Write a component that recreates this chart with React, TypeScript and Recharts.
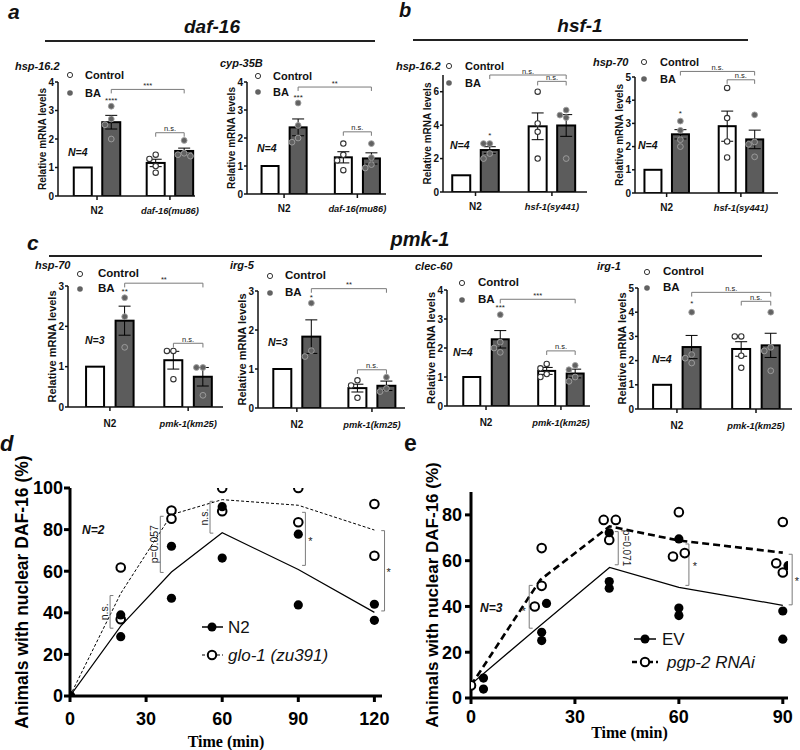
import React from "react";
import {
  ComposedChart,
  Bar,
  ErrorBar,
  Scatter,
  Line,
  XAxis,
  YAxis,
  ReferenceLine,
  ReferenceDot,
} from "recharts";

const SANS = "'Liberation Sans', Arial, Helvetica, sans-serif";
const SERIF = "'Liberation Serif', 'Times New Roman', serif";
const BA_GRAY = "#5c5c5c";
const DOT_GRAY = "#626262";
const BRACKET = "#7a7a7a";

// ---------- qPCR data: order is N2 Control, N2 BA, mutant Control, mutant BA ----------
const legendLabels = ["Control", "BA"];

const daf16Genotypes = ["N2", "daf-16(mu86)"];
const daf16Hsp162Mean = [1, 2.59, 1.16, 1.58];
const daf16Hsp162Sem = [null, 0.24, 0.13, 0.1];
const daf16Hsp162Points = [[], [3.15, 2.7, 2.5, 2.0], [1.45, 1.3, 1.05, 0.82], [1.95, 1.5, 1.45, 1.4]];
const daf16Cyp35bMean = [1, 2.38, 1.31, 1.27];
const daf16Cyp35bSem = [null, 0.3, 0.2, 0.2];
const daf16Cyp35bPoints = [[], [3.25, 2.45, 2.0, 1.85], [1.8, 1.4, 1.2, 0.85], [1.8, 1.3, 1.05, 0.93]];

const hsf1Genotypes = ["N2", "hsf-1(sy441)"];
const hsf1Hsp162Mean = [1, 2.51, 3.93, 3.98];
const hsf1Hsp162Sem = [null, 0.2, 0.8, 0.65];
const hsf1Hsp162Points = [[], [2.3, 2.9, 2.9, 2.0], [6.0, 4.1, 3.6, 2.0], [4.9, 4.6, 4.45, 2.0]];
const hsf1Hsp70Mean = [1, 2.53, 2.88, 2.31];
const hsf1Hsp70Sem = [null, 0.2, 0.65, 0.4];
const hsf1Hsp70Points = [[], [3.1, 2.7, 2.3, 2.0], [4.53, 3.23, 2.22, 1.53], [3.37, 2.2, 2.1, 1.56]];

const pmk1Genotypes = ["N2", "pmk-1(km25)"];
const pmk1Hsp70Mean = [1, 2.14, 1.16, 0.75];
const pmk1Hsp70Sem = [null, 0.36, 0.22, 0.23];
const pmk1Hsp70Points = [[], [2.71, 2.24, 1.48], [1.39, 1.39, 0.69], [0.98, 0.98, 0.29]];
const pmk1Irg5Mean = [1, 1.83, 0.51, 0.57];
const pmk1Irg5Sem = [null, 0.43, 0.1, 0.12];
const pmk1Irg5Points = [[], [2.69, 1.47, 1.32], [0.71, 0.58, 0.26], [0.79, 0.5, 0.42]];
const pmk1Clec60Mean = [1, 2.3, 1.21, 1.12];
const pmk1Clec60Sem = [null, 0.3, 0.12, 0.15];
const pmk1Clec60Points = [[], [3.15, 2.2, 2.0, 1.85], [1.45, 1.3, 1.1, 1.0], [1.4, 1.25, 1.0, 0.85]];
const pmk1Irg1Mean = [1, 2.56, 2.48, 2.63];
const pmk1Irg1Sem = [null, 0.48, 0.3, 0.5];
const pmk1Irg1Points = [[], [4.0, 2.25, 2.1, 1.9], [3.0, 3.0, 2.2, 1.7], [4.0, 2.55, 2.4, 1.58]];

// significance marks: star over N2 BA, long bracket N2 BA -> mutant BA, short bracket within mutant
const daf16Hsp162Sig = { star: "****", starY: 3.37, long: "***", longY: 3.74, short: "n.s.", shortY: 2.22 };
const daf16Cyp35bSig = { star: "***", starY: 3.46, long: "**", longY: 3.82, short: "n.s.", shortY: 2.22 };
const hsf1Hsp162Sig = { star: "*", starY: 3.42, long: "n.s.", longY: 7.0, short: "n.s.", shortY: 6.62 };
const hsf1Hsp70Sig = { star: "*", starY: 3.44, long: "n.s.", longY: 5.24, short: "n.s.", shortY: 4.88 };
const pmk1Hsp70Sig = { star: "**", starY: 2.88, long: "**", longY: 3.07, short: "n.s.", shortY: 1.58 };
const pmk1Irg5Sig = { star: "*", starY: 2.85, long: "**", longY: 3.06, short: "n.s.", shortY: 0.98 };
const pmk1Clec60Sig = { star: "***", starY: 3.4, long: "***", longY: 3.68, short: "n.s.", shortY: 1.9 };
const pmk1Irg1Sig = { star: "*", starY: 4.38, long: "n.s.", longY: 4.82, short: "n.s.", shortY: 4.45 };

// ---------- DAF-16 nuclear localisation time courses ----------
const timeD = [0, 20, 40, 60, 90, 120];
const n2Mean = [0, 33.6, 59.6, 78.5, 60.8, 40.2];
const glo1Mean = [0, 49.3, 87.2, 94.4, 91.7, 79.8];
const n2Reps = [[0, 0], [20, 39], [20, 28.5], [40, 72], [40, 47], [60, 91], [60, 66.3], [90, 77.8], [90, 43.8], [120, 44.1], [120, 36.4]];
const glo1Reps = [[0, 0], [20, 61.8], [20, 36.9], [40, 89.2], [40, 85.2], [60, 100], [60, 88.8], [90, 100], [90, 83.5], [120, 92.3], [120, 67.4]];

const timeE = [0, 20, 40, 60, 90];
const evMean = [6, 31.7, 57, 48.3, 40.5];
const pgp2Mean = [5.5, 51.6, 75, 68.8, 63.5];
const evReps = [[3.6, 8.7], [3.6, 3.9], [20.4, 28.7], [20.4, 25.1], [21.8, 41.3], [39.9, 72.2], [39.9, 50.9], [39.9, 48], [60, 69.5], [60, 39.3], [60, 36], [91.5, 57.8], [90, 38], [90, 25.7]];
const pgp2Reps = [[0, 5.5], [18.4, 40], [20.4, 65.5], [20.4, 49], [38.3, 77.8], [41.8, 77.8], [39.9, 69], [58.3, 61.8], [60, 81.2], [61.7, 63.3], [88.1, 58.9], [90, 76.9], [90, 54.8]];

// bracket annotations (time, low %, high %, tick direction, text, text position)
const dBrackets = [
  { t: 15.8, lo: 32.6, hi: 48.3, dir: 1, text: "n.s.", tx: 13.4, ty: 40.5, angle: -90 },
  { t: 35.6, lo: 59.4, hi: 86.4, dir: 1, text: "p=0.057", tx: 33.1, ty: 73, angle: -90 },
  { t: 55.2, lo: 78.3, hi: 93.6, dir: 1, text: "n.s.", tx: 52.8, ty: 86, angle: -90 },
  { t: 92.8, lo: 62.8, hi: 88.3, dir: -1, text: "*", tx: 94.8, ty: 74.5, angle: 0 },
  { t: 124, lo: 40.9, hi: 79.5, dir: -1, text: "*", tx: 125.6, ty: 59.5, angle: 0 },
];
const eBrackets = [
  { t: 16.8, lo: 30.5, hi: 49.2, dir: 1, text: "*", tx: 15.2, ty: 38, angle: 0 },
  { t: 42.5, lo: 58.2, hi: 72.7, dir: -1, text: "p=0.071", tx: 44.9, ty: 65.5, angle: 90 },
  { t: 62.9, lo: 49.2, hi: 67.3, dir: -1, text: "*", tx: 64.6, ty: 57.5, angle: 0 },
  { t: 92.7, lo: 40.7, hi: 62.8, dir: -1, text: "*", tx: 94.1, ty: 51, angle: 0 },
];

type Sig = { star: string; starY: number; long: string; longY: number; short: string; shortY: number };
type BarSpec = {
  id: string;
  gene: string;
  genotypes: string[];
  n: string;
  mean: (number | null)[];
  sem: (number | null)[];
  points: number[][];
  sig: Sig;
  yMax: number;
  yTicks: number[];
  // layout (page px)
  x0: number;
  x1: number;
  yTop: number;
  yZero: number;
  groups: number[];
  xMax: number;
  barSize: number;
  geneAt: [number, number];
  legendAt: [number, number, number, number];
  nAt: [number, number];
  labelSize: number;
  legendSize: number;
  tickDy: number;
};

const ROW_AB = { labelSize: 10, legendSize: 11, tickDy: 11.5 };
const ROW_C = { labelSize: 11, legendSize: 11.5, tickDy: 13.5 };

const BAR_PANELS: BarSpec[] = [
  {
    id: "a1", gene: "hsp-16.2", genotypes: daf16Genotypes, n: "N=4",
    mean: daf16Hsp162Mean, sem: daf16Hsp162Sem, points: daf16Hsp162Points, sig: daf16Hsp162Sig,
    yMax: 4, yTicks: [0, 1, 2, 3, 4],
    x0: 58, x1: 195, yTop: 82, yZero: 196, groups: [1.37, 3.93], xMax: 4.81, barSize: 18,
    geneAt: [15, 66], legendAt: [70, 75, 93, 85], nAt: [68, 152], ...ROW_AB,
  },
  {
    id: "a2", gene: "cyp-35B", genotypes: daf16Genotypes, n: "N=4",
    mean: daf16Cyp35bMean, sem: daf16Cyp35bSem, points: daf16Cyp35bPoints, sig: daf16Cyp35bSig,
    yMax: 4, yTicks: [0, 1, 2, 3, 4],
    x0: 247, x1: 386, yTop: 82, yZero: 194, groups: [1.32, 3.93], xMax: 4.95, barSize: 17,
    geneAt: [220, 63], legendAt: [258, 76, 92, 273], nAt: [257, 148], ...ROW_AB,
  },
  {
    id: "b1", gene: "hsp-16.2", genotypes: hsf1Genotypes, n: "N=4",
    mean: hsf1Hsp162Mean, sem: hsf1Hsp162Sem, points: hsf1Hsp162Points, sig: hsf1Hsp162Sig,
    yMax: 7, yTicks: [0, 2, 4, 6],
    x0: 443, x1: 587, yTop: 75, yZero: 192, groups: [1.14, 3.82], xMax: 5.05, barSize: 18,
    geneAt: [396, 66], legendAt: [449, 66, 83, 465], nAt: [450, 145], ...ROW_AB,
  },
  {
    id: "b2", gene: "hsp-70", genotypes: hsf1Genotypes, n: "N=4",
    mean: hsf1Hsp70Mean, sem: hsf1Hsp70Sem, points: hsf1Hsp70Points, sig: hsf1Hsp70Sig,
    yMax: 5, yTicks: [0, 1, 2, 3, 4, 5],
    x0: 635, x1: 778, yTop: 77, yZero: 193, groups: [1.15, 3.85], xMax: 5.2, barSize: 17,
    geneAt: [593, 62], legendAt: [644, 62, 79, 660], nAt: [638, 145], ...ROW_AB,
  },
  {
    id: "c1", gene: "hsp-70", genotypes: pmk1Genotypes, n: "N=3",
    mean: pmk1Hsp70Mean, sem: pmk1Hsp70Sem, points: pmk1Hsp70Points, sig: pmk1Hsp70Sig,
    yMax: 3, yTicks: [0, 1, 2, 3],
    x0: 68, x1: 223, yTop: 286, yZero: 407, groups: [1.42, 4.07], xMax: 5.25, barSize: 18,
    geneAt: [35, 265], legendAt: [80, 274, 289, 98], nAt: [85, 340], ...ROW_C,
  },
  {
    id: "c2", gene: "irg-5", genotypes: pmk1Genotypes, n: "N=3",
    mean: pmk1Irg5Mean, sem: pmk1Irg5Sem, points: pmk1Irg5Points, sig: pmk1Irg5Sig,
    yMax: 3, yTicks: [0, 1, 2, 3],
    x0: 258, x1: 405, yTop: 291, yZero: 408, groups: [1.34, 3.93], xMax: 5.07, barSize: 18,
    geneAt: [230, 265], legendAt: [270, 276, 293, 285], nAt: [268, 342], ...ROW_C,
  },
  {
    id: "c3", gene: "clec-60", genotypes: pmk1Genotypes, n: "N=4",
    mean: pmk1Clec60Mean, sem: pmk1Clec60Sem, points: pmk1Clec60Points, sig: pmk1Clec60Sig,
    yMax: 4, yTicks: [0, 1, 2, 3, 4],
    x0: 447, x1: 590, yTop: 290, yZero: 406, groups: [1.37, 4.0], xMax: 5.02, barSize: 17,
    geneAt: [415, 266], legendAt: [462, 283, 300, 478], nAt: [453, 352], ...ROW_C,
  },
  {
    id: "c4", gene: "irg-1", genotypes: pmk1Genotypes, n: "N=4",
    mean: pmk1Irg1Mean, sem: pmk1Irg1Sem, points: pmk1Irg1Points, sig: pmk1Irg1Sig,
    yMax: 5, yTicks: [0, 1, 2, 3, 4, 5],
    x0: 638, x1: 792, yTop: 288, yZero: 409, groups: [1.32, 4.0], xMax: 5.22, barSize: 18,
    geneAt: [597, 266], legendAt: [647, 272, 288, 663], nAt: [652, 359], ...ROW_C,
  },
];

// small beeswarm so replicate dots with close values don't sit on top of each other
function swarm(values: number[], center: number, tol: number) {
  const placed: { x: number; y: number }[] = [];
  const offsets = [0, -0.22, 0.22, -0.11, 0.11, -0.33, 0.33];
  values.forEach((v) => {
    const dx =
      offsets.find(
        (o) => !placed.some((p) => Math.abs(p.y - v) < tol && Math.abs(p.x - (center + o)) < 0.2)
      ) ?? 0;
    placed.push({ x: center + dx, y: v });
  });
  return placed;
}

const openDot = (r: number, sw: number, stroke = "#222") => (p: any) =>
  <circle cx={p.cx} cy={p.cy} r={r} fill="#fff" stroke={stroke} strokeWidth={sw} />;
const fullDot = (r: number, fill: string, stroke = "none") => (p: any) =>
  <circle cx={p.cx} cy={p.cy} r={r} fill={fill} stroke={stroke} strokeWidth={0.9} />;

function Txt({
  left, cy, size, children, bold, italic, center, serif,
}: {
  left: number; cy: number; size: number; children: React.ReactNode;
  bold?: boolean; italic?: boolean; center?: boolean; serif?: boolean;
}) {
  return (
    <div
      style={{
        position: "absolute",
        left,
        top: cy,
        transform: center ? "translate(-50%, -50%)" : "translateY(-50%)",
        fontSize: size,
        lineHeight: 1,
        fontWeight: bold ? 700 : 400,
        fontStyle: italic ? "italic" : "normal",
        fontFamily: serif ? SERIF : SANS,
        whiteSpace: "nowrap",
        color: "#111",
      }}
    >
      {children}
    </div>
  );
}

function Rule({ left, top, width }: { left: number; top: number; width: number }) {
  return <div style={{ position: "absolute", left, top, width, height: 2, background: "#222" }} />;
}

function sigBracket(key: string, xa: number, xb: number, y: number, drop: number, text: string) {
  const line = { stroke: BRACKET, strokeWidth: 1, ifOverflow: "visible" as const };
  return [
    <ReferenceLine key={key + "h"} segment={[{ x: xa, y }, { x: xb, y }]} {...line} />,
    <ReferenceLine key={key + "l"} segment={[{ x: xa, y }, { x: xa, y: y - drop }]} {...line} />,
    <ReferenceLine key={key + "r"} segment={[{ x: xb, y }, { x: xb, y: y - drop }]} {...line} />,
    <ReferenceDot
      key={key + "t"}
      x={(xa + xb) / 2}
      y={y}
      r={0}
      fill="none"
      stroke="none"
      ifOverflow="visible"
      label={{ value: text, position: "top", offset: 1.5, fontSize: 7.5, fill: "#222" }}
    />,
  ];
}

function BarPanel({ s }: { s: BarSpec }) {
  const left = s.x0 - 50;
  const top = s.yTop - 32;
  const width = s.x1 + 14 - left;
  const height = s.yZero - top + 28;
  const xs = [s.groups[0] - 0.5, s.groups[0] + 0.5, s.groups[1] - 0.5, s.groups[1] + 0.5];
  const rows = xs.map((x, i) => ({ x, mean: s.mean[i], sem: s.sem[i] }));
  const tol = (6 * s.yMax) / (s.yZero - s.yTop);
  const ctrlPts = [0, 2].flatMap((i) => swarm(s.points[i], xs[i], tol));
  const baPts = [1, 3].flatMap((i) => swarm(s.points[i], xs[i], tol));
  const drop = s.yMax * 0.035;
  const [lcx, ly1, ly2, ltx] = s.legendAt;

  // bars are placed by the number axis; the shape only widens them around that centre
  const barShape = (p: any) => {
    const cx = p.x + p.width / 2;
    return (
      <rect
        x={cx - s.barSize / 2}
        y={p.y}
        width={s.barSize}
        height={p.height}
        fill={p.index % 2 ? BA_GRAY : "#fff"}
        stroke="#000"
        strokeWidth={2}
      />
    );
  };

  return (
    <>
      <div style={{ position: "absolute", left, top }}>
        <ComposedChart width={width} height={height} data={rows} margin={{ top: 32, right: 14, left: 0, bottom: 0 }}>
          <XAxis
            type="number"
            dataKey="x"
            domain={[0, s.xMax]}
            ticks={s.groups}
            allowDataOverflow
            height={28}
            tickSize={4}
            axisLine={{ stroke: "#111", strokeWidth: 1.5 }}
            tickLine={{ stroke: "#111", strokeWidth: 1.5 }}
            tick={(p: any) => {
              const idx = Math.abs(p.payload.value - s.groups[0]) < 0.01 ? 0 : 1;
              return (
                <text
                  x={p.x}
                  y={p.y + s.tickDy}
                  textAnchor="middle"
                  fontSize={idx === 0 ? 10 : 9.3}
                  fontWeight={700}
                  fontStyle={idx === 0 ? "normal" : "italic"}
                  fill="#111"
                >
                  {s.genotypes[idx]}
                </text>
              );
            }}
          />
          <YAxis
            type="number"
            domain={[0, s.yMax]}
            ticks={s.yTicks}
            allowDataOverflow
            width={50}
            tickSize={3}
            tickMargin={1}
            axisLine={{ stroke: "#111", strokeWidth: 1.5 }}
            tickLine={{ stroke: "#111", strokeWidth: 1.5 }}
            tick={{ fontSize: 10, fontWeight: 700, fill: "#111" }}
            label={{
              value: "Relative mRNA levels",
              angle: -90,
              position: "insideLeft",
              offset: 34,
              fontSize: s.labelSize,
              fontWeight: 700,
              fill: "#111",
              style: { textAnchor: "middle" },
            }}
          />
          <Bar dataKey="mean" shape={barShape} isAnimationActive={false}>
            <ErrorBar dataKey="sem" width={6} stroke="#000" strokeWidth={1} isAnimationActive={false} />
          </Bar>
          <Scatter data={ctrlPts} dataKey="y" isAnimationActive={false} shape={openDot(2.7, 1.1, "#333")} />
          <Scatter data={baPts} dataKey="y" isAnimationActive={false} shape={fullDot(2.9, DOT_GRAY, "#a0a0a0")} />
          <ReferenceDot
            x={xs[1]}
            y={s.sig.starY}
            r={0}
            fill="none"
            stroke="none"
            ifOverflow="visible"
            label={{ value: s.sig.star, position: "center", fontSize: 8, fill: "#222" }}
          />
          {sigBracket(s.id + "L", xs[1], xs[3], s.sig.longY, drop, s.sig.long)}
          {sigBracket(s.id + "S", xs[2], xs[3], s.sig.shortY, drop, s.sig.short)}
        </ComposedChart>
      </div>
      <Txt left={s.geneAt[0]} cy={s.geneAt[1]} size={11} bold italic>
        {s.gene}
      </Txt>
      <svg style={{ position: "absolute", left: lcx - 5, top: ly1 - 5 }} width={10} height={ly2 - ly1 + 10}>
        <circle cx={5} cy={5} r={2.6} fill="#fff" stroke="#333" strokeWidth={1} />
        <circle cx={5} cy={ly2 - ly1 + 5} r={2.8} fill={DOT_GRAY} />
      </svg>
      <Txt left={ltx} cy={ly1} size={s.legendSize} bold>
        {legendLabels[0]}
      </Txt>
      <Txt left={ltx} cy={ly2} size={s.legendSize} bold>
        {legendLabels[1]}
      </Txt>
      <Txt left={s.nAt[0]} cy={s.nAt[1]} size={10.5} bold italic>
        {s.n}
      </Txt>
    </>
  );
}

type Bracket = { t: number; lo: number; hi: number; dir: number; text: string; tx: number; ty: number; angle: number };

function timeBrackets(prefix: string, list: Bracket[], tick: number, textSize: number) {
  const line = { stroke: BRACKET, strokeWidth: 1, ifOverflow: "visible" as const };
  return list.flatMap((b, i) => [
    <ReferenceLine key={`${prefix}${i}v`} segment={[{ x: b.t, y: b.lo }, { x: b.t, y: b.hi }]} {...line} />,
    <ReferenceLine key={`${prefix}${i}a`} segment={[{ x: b.t, y: b.lo }, { x: b.t + b.dir * tick, y: b.lo }]} {...line} />,
    <ReferenceLine key={`${prefix}${i}b`} segment={[{ x: b.t, y: b.hi }, { x: b.t + b.dir * tick, y: b.hi }]} {...line} />,
    <ReferenceDot
      key={`${prefix}${i}t`}
      x={b.tx}
      y={b.ty}
      r={0}
      fill="none"
      stroke="none"
      ifOverflow="visible"
      label={{
        value: b.text,
        position: "center",
        angle: b.angle,
        fontSize: b.text === "*" ? 11 : textSize,
        fill: "#222",
      }}
    />,
  ]);
}

const TIME_TOP = 440;

function TimePanel({
  left, times, meanA, meanB, repsA, repsB, brackets, xMax, xTicks, yMax, yTicks, marginTop, marginRight,
  yAxisW, xAxisH, dashB, widthB, tickMarginX, tickMarginY, yLabelOffset, yLabelSize, timeOffset, bracketTick, bracketText,
}: any) {
  const rows = times.map((t: number, i: number) => ({ x: t, a: meanA[i], b: meanB[i] }));
  const ptsA = repsA.map(([x, y]: number[]) => ({ x, y }));
  const ptsB = repsB.map(([x, y]: number[]) => ({ x, y }));
  const axis = { stroke: "#000", strokeWidth: 3 };
  return (
    <div style={{ position: "absolute", left, top: TIME_TOP }}>
      <ComposedChart width={400} height={750 - TIME_TOP} data={rows} margin={{ top: marginTop, right: marginRight, left: 0, bottom: 0 }}>
        <XAxis
          type="number"
          dataKey="x"
          domain={[0, xMax]}
          ticks={xTicks}
          allowDataOverflow
          height={xAxisH}
          tickSize={6}
          tickMargin={tickMarginX}
          axisLine={axis}
          tickLine={axis}
          tick={{ fontSize: 18, fontWeight: 700, fill: "#000" }}
          label={{
            value: "Time (min)",
            position: "insideBottom",
            offset: timeOffset,
            fontSize: 16,
            fontWeight: 700,
            fill: "#000",
            style: { fontFamily: SERIF },
          }}
        />
        <YAxis
          type="number"
          domain={[0, yMax]}
          ticks={yTicks}
          allowDataOverflow
          width={yAxisW}
          tickSize={6}
          tickMargin={tickMarginY}
          axisLine={axis}
          tickLine={axis}
          tick={{ fontSize: 18, fontWeight: 700, fill: "#000" }}
          label={{
            value: "Animals with nuclear DAF-16 (%)",
            angle: -90,
            position: "insideLeft",
            offset: yLabelOffset,
            fontSize: yLabelSize,
            fontWeight: 700,
            fill: "#000",
            style: { textAnchor: "middle" },
          }}
        />
        <Line type="linear" dataKey="a" stroke="#000" strokeWidth={1.2} dot={false} isAnimationActive={false} />
        <Line
          type="linear"
          dataKey="b"
          stroke="#000"
          strokeWidth={widthB}
          strokeDasharray={dashB}
          dot={false}
          isAnimationActive={false}
        />
        {timeBrackets(left === 0 ? "d" : "e", brackets, bracketTick, bracketText)}
        <Scatter data={ptsB} dataKey="y" isAnimationActive={false} shape={openDot(4.3, 2, "#000")} />
        <Scatter data={ptsA} dataKey="y" isAnimationActive={false} shape={fullDot(4.6, "#000")} />
      </ComposedChart>
    </div>
  );
}

function LineLegend({
  x1, x2, dotX, y, dash, width, open, textLeft, children,
}: {
  x1: number; x2: number; dotX: number; y: number; dash?: string; width: number; open?: boolean;
  textLeft: number; children: React.ReactNode;
}) {
  return (
    <>
      <svg style={{ position: "absolute", left: x1, top: y - 6 }} width={x2 - x1} height={12}>
        <line x1={0} y1={6} x2={x2 - x1} y2={6} stroke="#000" strokeWidth={width} strokeDasharray={dash} />
        {open ? (
          <circle cx={dotX - x1} cy={6} r={4.2} fill="#fff" stroke="#000" strokeWidth={2} />
        ) : (
          <circle cx={dotX - x1} cy={6} r={4.5} fill="#000" />
        )}
      </svg>
      <Txt left={textLeft} cy={y} size={17} italic={open}>
        {children}
      </Txt>
    </>
  );
}

export default function App() {
  return (
    <div
      style={{
        position: "absolute",
        left: 0,
        top: 0,
        width: 800,
        height: 750,
        background: "#fff",
        fontFamily: SANS,
        overflow: "hidden",
      }}
    >
      <TimePanel
        left={0}
        times={timeD}
        meanA={n2Mean}
        meanB={glo1Mean}
        repsA={n2Reps}
        repsB={glo1Reps}
        brackets={dBrackets}
        xMax={123}
        xTicks={[0, 30, 60, 90, 120]}
        yMax={100}
        yTicks={[0, 20, 40, 60, 80, 100]}
        marginTop={488 - TIME_TOP}
        marginRight={18}
        yAxisW={70}
        xAxisH={54}
        dashB="3 2"
        widthB={1}
        tickMarginX={10}
        tickMarginY={1}
        yLabelOffset={22}
        yLabelSize={17.5}
        timeOffset={3}
        bracketTick={1.3}
        bracketText={10.5}
      />
      <TimePanel
        left={400}
        times={timeE}
        meanA={evMean}
        meanB={pgp2Mean}
        repsA={evReps}
        repsB={pgp2Reps}
        brackets={eBrackets}
        xMax={91.5}
        xTicks={[0, 30, 60, 90]}
        yMax={90}
        yTicks={[0, 20, 40, 60, 80]}
        marginTop={492 - TIME_TOP}
        marginRight={12}
        yAxisW={71}
        xAxisH={52}
        dashB="7 4"
        widthB={2.6}
        tickMarginX={6}
        tickMarginY={3}
        yLabelOffset={32}
        yLabelSize={17}
        timeOffset={12}
        bracketTick={1}
        bracketText={10}
      />

      {/* section letters and gene headers */}
      <Txt left={8} cy={11} size={21} bold italic>a</Txt>
      <Txt left={212} cy={26} size={19} bold italic center>daf-16</Txt>
      <Rule left={45} top={40} width={330} />
      <Txt left={399} cy={10} size={20} bold italic>b</Txt>
      <Txt left={580} cy={25} size={19} bold italic center>hsf-1</Txt>
      <Rule left={413} top={39} width={335} />
      <Txt left={27} cy={242} size={21} bold italic>c</Txt>
      <Txt left={420} cy={239} size={20} bold italic center>pmk-1</Txt>
      <Rule left={49} top={255} width={713} />
      <Txt left={0} cy={444} size={22} bold italic>d</Txt>
      <Txt left={404} cy={443} size={23} bold>e</Txt>

      {BAR_PANELS.map((s) => (
        <BarPanel key={s.id} s={s} />
      ))}

      <Txt left={82} cy={530} size={12} bold italic>N=2</Txt>
      <LineLegend x1={202} x2={223} dotX={212} y={627} width={1.5} textLeft={228}>N2</LineLegend>
      <LineLegend x1={202} x2={223} dotX={212} y={655} width={1.2} dash="3 2" open textLeft={228}>
        glo-1 (zu391)
      </LineLegend>
      <Txt left={480} cy={608} size={12} bold italic>N=3</Txt>
      <LineLegend x1={634} x2={656} dotX={645} y={639} width={1.5} textLeft={662}>EV</LineLegend>
      <LineLegend x1={632} x2={658} dotX={645} y={662} width={2.4} dash="5 3" open textLeft={667}>
        pgp-2 RNAi
      </LineLegend>
    </div>
  );
}
